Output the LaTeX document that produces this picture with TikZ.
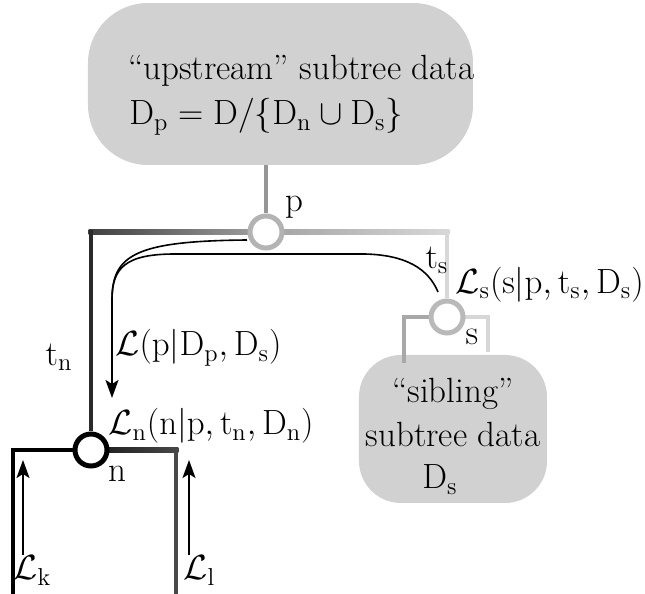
\RequirePackage{fix-cm}
\documentclass[tikz,border=0pt]{standalone}
\usetikzlibrary{arrows.meta,calc}
\pgfdeclarelayer{boxlayer}
\pgfdeclarelayer{linelayer}
\pgfsetlayers{boxlayer,linelayer,main}
\definecolor{boxgray}{HTML}{D1D1D1}
\definecolor{pgray}{HTML}{B3B3B3}
\definecolor{sgray}{HTML}{B9B9B9}
\definecolor{topline}{HTML}{969696}
\definecolor{darkline}{HTML}{2A2A2A}
\definecolor{midline}{HTML}{A2A2A2}
\definecolor{lightline}{HTML}{D8D8D8}
\definecolor{nrline}{HTML}{484848}
\definecolor{slline}{HTML}{A8A8A8}
\definecolor{srline}{HTML}{D6D6D6}
\newcommand{\ur}[1]{\mathrm{#1}}
\tikzset{
  every node/.style={font=\fontsize{17.5}{22.5}\selectfont, inner sep=0pt},
  databox/.style={fill=boxgray, draw=none},
  treenode/.style={circle, fill=white, line width=2.5pt, minimum size=16pt},
  branch/.style={line width=2.4pt, line join=miter},
  msg/.style={line width=0.8pt},
  arr/.style={msg, -{Stealth[length=9pt,width=6.5pt,inset=2pt]}},
}
\begin{document}
\begin{tikzpicture}[x=0.5pt,y=-0.5pt]
\useasboundingbox (0,0) rectangle (645,594);
% boxes
\begin{pgfonlayer}{boxlayer}
\node[databox, rounded corners=30pt, minimum width=192.5pt, minimum height=81pt] (up) at (280.5,84) {};
\node[databox, rounded corners=21pt, minimum width=94pt, minimum height=74pt] (sib) at (453,429) {};
\end{pgfonlayer}
% box texts
\node[anchor=base west] (upt1) at (128,80) {``upstream'' subtree data};
\node[anchor=base west] (upt2) at (129,125) {$\ur{D}_\ur{p} = \ur{D}/\{\ur{D}_\ur{n} \cup \ur{D}_\ur{s}\}$};
\node[anchor=base] (sbt1) at (453,403) {``sibling''};
\node[anchor=base] (sbt2) at (453,447) {subtree data};
\node[anchor=base] (sbt3) at (440,489) {$\ur{D}_\ur{s}$};
% tree nodes
\node[treenode, draw=pgray] (p) at (266,232) {};
\node[treenode, draw=black] (n) at (91,450) {};
\node[treenode, draw=sgray] (s) at (447,317) {};
% corners
\coordinate (pl) at (91,232);
\coordinate (pr) at (447,232);
\coordinate (nl) at (13,450);
\coordinate (nlb) at (13,594);
\coordinate (nr) at (176,450);
\coordinate (nrb) at (176,594);
\coordinate (slb) at (404,363);
\coordinate (srb) at (488,352);
% branches
\begin{pgfonlayer}{linelayer}
\draw[branch, topline] (p.north |- up.south) -- (p.north);
\shade[left color=darkline!90!white, right color=midline] ($(pl)+(-1.2pt,1.2pt)$) rectangle ($(p.center)+(0,-1.2pt)$);
\shade[left color=midline, right color=lightline] ($(p.center)+(0,1.2pt)$) rectangle ($(pr)+(1.2pt,-1.2pt)$);
\draw[branch, darkline] ($(pl)+(0,1.2pt)$) -- (n.north);
\draw[branch, lightline] ($(pr)+(0,-1.2pt)$) -- (s.north);
\draw[branch, black] (n.center) -| (nlb);
\shade[left color=black!90, right color=nrline] ($(n.center)+(0,1.2pt)$) rectangle ($(nr)+(1.2pt,-1.2pt)$);
\draw[branch, nrline] ($(nr)+(0,-1.2pt)$) -- (nrb);
\draw[branch, slline] (s.center) -| (slb);
\draw[branch, srline] (s.center) -| (srb);
\end{pgfonlayer}
% messages
\coordinate (m1) at (247,240);
\coordinate (m2) at (438,292);
\coordinate (mj) at (112,300);
\coordinate (mt) at (112,398);
\draw[msg] (m1) .. controls (135,241) and (112,255) .. (mj);
\draw[arr] (m2) .. controls (428,268) and (405,255) .. (365,254) -- (175,254) .. controls (125,254) and (112,268) .. (mj) -- (mt);
\coordinate (kb) at (23,555);
\coordinate (kt) at (23,460);
\coordinate (lb) at (189,555);
\coordinate (lt) at (189,460);
\draw[arr] (kb) -- (kt);
\draw[arr] (lb) -- (lt);
% labels
\node (lp) at (294,207) {$\ur{p}$};
\node (ln) at (117,474) {$\ur{n}$};
\node (ls) at (472,337) {$\ur{s}$};
\node (ltn) at (59,357) {$\ur{t}_\ur{n}$};
\node (lts) at (437,260) {$\ur{t}_\ur{s}$};
\node[anchor=base west] (lL) at (115,356) {$\mathcal{L}(\ur{p}|\ur{D}_\ur{p},\ur{D}_\ur{s})$};
\node[anchor=base west] (lLn) at (108,435) {$\mathcal{L}_\ur{n}(\ur{n}|\ur{p},\ur{t}_\ur{n},\ur{D}_\ur{n})$};
\node[anchor=base west] (lLs) at (455,293) {$\mathcal{L}_\ur{s}(\ur{s}|\ur{p},\ur{t}_\ur{s},\ur{D}_\ur{s})$};
\node[anchor=base west] (lLk) at (13,580) {$\mathcal{L}_\ur{k}$};
\node[anchor=base west] (lLl) at (183,580) {$\mathcal{L}_\ur{l}$};
\end{tikzpicture}
\end{document}
